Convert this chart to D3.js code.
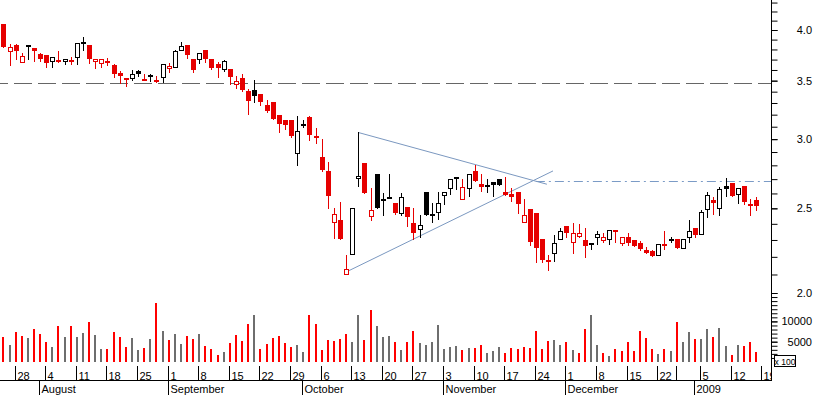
<!DOCTYPE html>
<html><head><meta charset="utf-8">
<script src="https://cdn.jsdelivr.net/npm/d3@7"></script>
<style>html,body{margin:0;padding:0;background:#fff;overflow:hidden}svg{display:block;font-family:"Liberation Sans",Arial,sans-serif}</style>
</head><body><svg id="c" width="817" height="395"></svg>
<script>
// ---------------- DATA ----------------
const openP = [
4.064,3.788,3.845,3.674,3.842,3.815,3.755,3.742,3.684,3.696,
3.687,3.700,3.723,3.873,3.845,3.687,3.664,3.689,3.648,3.572,
3.525,3.528,3.591,3.513,3.550,3.507,3.532,3.616,3.626,3.792,
3.845,3.706,3.703,3.795,3.706,3.658,3.607,3.610,3.467,3.525,
3.406,3.412,3.379,3.282,3.309,3.197,3.153,3.153,2.890,3.123,
3.180,3.025,2.862,2.759,2.410,2.424,2.103,2.218,2.706,2.817,
2.452,2.737,2.562,2.574,2.533,2.468,2.509,2.405,2.368,2.610,
2.461,2.474,2.587,2.636,2.717,2.560,2.636,2.759,2.664,2.657,
2.678,2.699,2.610,2.596,2.610,2.410,2.496,2.470,2.306,2.180,
2.220,2.304,2.386,2.290,2.326,2.300,2.284,2.316,2.302,2.308,
2.361,2.284,2.320,2.298,2.280,2.240,2.232,2.209,2.274,2.306,
2.304,2.254,2.316,2.372,2.335,2.494,2.554,2.504,2.652,2.671,
2.594,2.650,2.531,2.554];
const highP = [
4.064,3.852,3.859,3.762,3.842,3.815,3.768,3.742,3.723,3.785,
3.706,3.726,3.863,3.927,3.845,3.709,3.709,3.713,3.655,3.591,
3.525,3.600,3.597,3.562,3.562,3.544,3.655,3.670,3.792,3.873,
3.845,3.706,3.762,3.795,3.706,3.677,3.696,3.610,3.544,3.559,
3.424,3.507,3.379,3.324,3.309,3.197,3.153,3.153,3.189,3.155,
3.189,3.087,3.001,2.825,2.502,2.542,2.211,2.502,3.055,2.817,
2.638,2.737,2.601,2.737,2.533,2.601,2.509,2.502,2.456,2.610,
2.537,2.608,2.608,2.703,2.717,2.699,2.735,2.805,2.737,2.699,
2.678,2.699,2.717,2.638,2.610,2.562,2.496,2.470,2.306,2.211,
2.330,2.372,2.386,2.403,2.397,2.374,2.284,2.355,2.341,2.361,
2.361,2.316,2.341,2.298,2.292,2.256,2.240,2.277,2.353,2.320,
2.304,2.304,2.424,2.372,2.487,2.610,2.576,2.643,2.708,2.671,
2.636,2.650,2.562,2.574];
const lowP = [
3.828,3.648,3.706,3.674,3.706,3.687,3.689,3.632,3.632,3.677,
3.658,3.658,3.658,3.798,3.670,3.622,3.629,3.648,3.535,3.476,
3.454,3.507,3.544,3.504,3.500,3.490,3.490,3.584,3.626,3.792,
3.719,3.584,3.670,3.680,3.610,3.535,3.593,3.472,3.436,3.406,
3.206,3.309,3.285,3.223,3.166,3.060,3.084,3.017,2.805,3.095,
2.996,2.967,2.761,2.504,2.310,2.308,2.103,2.218,2.654,2.605,
2.426,2.504,2.456,2.571,2.463,2.458,2.388,2.308,2.318,2.458,
2.413,2.429,2.531,2.594,2.629,2.560,2.583,2.689,2.619,2.612,
2.583,2.661,2.589,2.551,2.471,2.410,2.272,2.172,2.172,2.125,
2.178,2.304,2.320,2.224,2.316,2.201,2.248,2.277,2.290,2.277,
2.288,2.270,2.270,2.266,2.242,2.224,2.207,2.209,2.244,2.290,
2.254,2.254,2.290,2.320,2.335,2.446,2.463,2.456,2.585,2.585,
2.537,2.531,2.458,2.491];
const closeP = [
3.828,3.828,3.788,3.739,3.828,3.788,3.709,3.670,3.723,3.680,
3.706,3.699,3.863,3.865,3.709,3.709,3.709,3.670,3.565,3.547,
3.510,3.559,3.560,3.513,3.537,3.490,3.655,3.638,3.785,3.832,
3.745,3.603,3.762,3.709,3.622,3.619,3.684,3.535,3.494,3.415,
3.320,3.359,3.309,3.231,3.166,3.125,3.117,3.028,3.063,3.122,
3.035,3.012,2.766,2.585,2.465,2.308,2.129,2.502,2.725,2.605,
2.487,2.504,2.562,2.574,2.471,2.574,2.446,2.344,2.391,2.458,
2.461,2.537,2.608,2.703,2.717,2.647,2.735,2.689,2.647,2.657,
2.658,2.661,2.589,2.578,2.531,2.456,2.288,2.254,2.184,2.180,
2.280,2.355,2.345,2.345,2.341,2.266,2.270,2.335,2.318,2.361,
2.347,2.316,2.284,2.266,2.244,2.224,2.207,2.277,2.274,2.306,
2.254,2.304,2.353,2.330,2.478,2.587,2.537,2.629,2.633,2.585,
2.636,2.544,2.531,2.517];
const volume = [
6160,4190,7390,6400,5990,8130,6900,4930,3700,8870,
6160,8870,6160,7140,9930,6580,3130,3200,7390,6160,
3700,5910,2880,3520,5670,14530,7640,5420,6900,4430,
6400,5670,6900,3940,3200,1720,2390,4680,6650,5170,
9360,11580,3200,4430,5910,6400,4680,3700,4190,2390,
11580,9360,2880,5420,5170,5670,6900,4930,11580,5420,
12810,8870,6160,6400,4930,2880,4930,7640,4680,4190,
4930,9110,3200,3700,3940,2880,3450,3450,4190,2220,
2640,3700,2140,3450,3200,3700,3450,7640,3200,5170,
5420,4190,4930,2960,2140,8130,11580,4190,2220,1400,
3200,2710,4930,2640,7640,5910,3200,1900,3200,2640,
9930,5000,7390,5670,5670,8130,6160,8370,3940,1720,
4190,3940,4930,2390];
const priorClose = 4.10;
const refLevel = 3.48;          // grey dashed horizontal
const resistLevel = 2.687;      // blue dash-dot horizontal
const resistFromIdx = 87;
const trendUpper = [[58.0, 3.053], [88.8, 2.664]];
const trendLower = [[55.9, 2.112], [89.8, 2.759]];
const priceLabels = [2.0, 2.5, 3.0, 3.5, 4.0];
const volLabels = [5000, 10000];
const weekLabels = ['28','4','11','18','25','1','8','15','22','29','6','13','20','27',
                    '3','10','17','24','1','8','15','22','','5','12','19'];
const monthLabels = ['August','September','October','November','December','2009'];
const holidays = ['2008-12-25','2008-12-26','2009-01-01'];
const firstDay = '2008-07-24', lastDay = '2009-01-16';

// ---------------- DATES ----------------
const dates = [];
for (let t = Date.parse(firstDay); t <= Date.parse(lastDay); t += 864e5) {
  const d = new Date(t), wd = d.getUTCDay(), s = d.toISOString().slice(0,10);
  if (wd > 0 && wd < 6 && !holidays.includes(s)) dates.push(d);
}
const n = closeP.length;

// ---------------- SCALES ----------------
const svg = d3.select('#c');
const AX = 771.5;
const x = d3.scaleLinear().domain([0, n - 1]).range([3.4, 756.2]);
const y = d3.scaleLog().domain([2, 4]).range([293, 30]);
const yv = d3.scaleLinear().domain([0, 10000]).range([362, 321.4]);
const RED = '#e60000', BLACK = '#000', VRED = '#ff0000', VGRAY = '#6e6e6e';
const px = i => Math.round(x(i));

svg.append('rect').attr('width', 817).attr('height', 395).attr('fill', '#fff');
svg.append('defs').append('clipPath').attr('id', 'clipL')
  .append('rect').attr('x', 0).attr('y', 0).attr('width', AX).attr('height', 395);

const plot = svg.append('g').attr('clip-path', 'url(#clipL)');

// grey dashed reference line
plot.append('line').attr('x1', 0).attr('x2', AX)
  .attr('y1', Math.round(y(refLevel)) + 0.5).attr('y2', Math.round(y(refLevel)) + 0.5)
  .attr('stroke', '#666').attr('stroke-width', 1)
  .attr('stroke-dasharray', '18,6').attr('stroke-dashoffset', 10);

// resistance dash-dot
plot.append('line').attr('x1', x(resistFromIdx)).attr('x2', AX)
  .attr('y1', Math.round(y(resistLevel)) + 0.5).attr('y2', Math.round(y(resistLevel)) + 0.5)
  .attr('stroke', '#7b9bc6').attr('stroke-width', 1).attr('stroke-dasharray', '9,4,2,4');

// triangle trend lines
[trendUpper, trendLower].forEach(t => {
  plot.append('line')
    .attr('x1', x(t[0][0])).attr('y1', y(t[0][1]))
    .attr('x2', x(t[1][0])).attr('y2', y(t[1][1]))
    .attr('stroke', '#7b98c0').attr('stroke-width', 1);
});

// candles
const data = d3.range(n).map(i => ({
  i, o: openP[i], h: highP[i], l: lowP[i], c: closeP[i], v: volume[i],
  pc: i === 0 ? priorClose : closeP[i - 1]
}));
const cg = plot.append('g');
data.forEach(d => {
  const col = d.c <= d.pc ? RED : BLACK;
  const cx = px(d.i) + 0.5;
  cg.append('line').attr('x1', cx).attr('x2', cx)
    .attr('y1', Math.round(y(d.h))).attr('y2', Math.round(y(d.l)) + 1)
    .attr('stroke', col).attr('stroke-width', 1);
  const top = Math.round(y(Math.max(d.o, d.c)));
  const bot = Math.round(y(Math.min(d.o, d.c)));
  if (d.c > d.o) {
    cg.append('rect').attr('x', px(d.i) - 2 + 0.5).attr('y', top + 0.5)
      .attr('width', 4).attr('height', Math.max(bot - top, 1))
      .attr('fill', '#fff').attr('stroke', col).attr('stroke-width', 1);
  } else {
    cg.append('rect').attr('x', px(d.i) - 2).attr('y', top)
      .attr('width', 5).attr('height', Math.max(bot - top, 2))
      .attr('fill', col);
  }
});

// volume bars
plot.append('g').selectAll('rect').data(data).join('rect')
  .attr('x', d => px(d.i) - 1).attr('width', 2)
  .attr('y', d => Math.round(yv(d.v))).attr('height', d => 362 - Math.round(yv(d.v)))
  .attr('fill', d => d.c < d.pc ? VRED : VGRAY);

// ---------------- RIGHT AXES ----------------
svg.append('line').attr('x1', AX).attr('x2', AX).attr('y1', 0).attr('y2', 381)
  .attr('stroke', '#000').attr('stroke-width', 1);

const minorP = d3.range(20, 44).map(v => v / 10);
const pAxis = svg.append('g').attr('transform', `translate(${AX},0)`)
  .call(d3.axisRight(y).tickValues(minorP).tickSize(6).tickFormat(''));
pAxis.select('.domain').remove();
const pLab = svg.append('g').attr('transform', `translate(${AX},0)`)
  .call(d3.axisRight(y).tickValues(priceLabels).tickSize(6).tickFormat(d3.format('.1f')));
pLab.select('.domain').remove();
pLab.selectAll('text').attr('x', 812 - AX).attr('text-anchor', 'end')
  .attr('font-size', 11).attr('font-family', '"Liberation Sans",Arial,sans-serif').attr('fill', '#000');

const minorV = d3.range(1000, 17000, 1000);
const vAxis = svg.append('g').attr('transform', `translate(${AX},0)`)
  .call(d3.axisRight(yv).tickValues(minorV).tickSize(6).tickFormat(''));
vAxis.select('.domain').remove();
const vLab = svg.append('g').attr('transform', `translate(${AX},0)`)
  .call(d3.axisRight(yv).tickValues(volLabels).tickSize(6).tickFormat(d3.format('d')));
vLab.select('.domain').remove();
vLab.selectAll('text').attr('x', 812 - AX).attr('text-anchor', 'end')
  .attr('font-size', 11).attr('font-family', '"Liberation Sans",Arial,sans-serif').attr('fill', '#000');

// x 100 box
svg.append('rect').attr('x', 774.5).attr('y', 355.5).attr('width', 21).attr('height', 11)
  .attr('fill', '#fff').attr('stroke', '#000').attr('stroke-width', 1);
svg.append('text').attr('x', 785).attr('y', 364.5).attr('text-anchor', 'middle')
  .attr('font-size', 8.5).text('x 100');

// ---------------- DATE AXIS ----------------
const dg = svg.append('g').attr('clip-path', 'url(#clipL)');
dg.append('line').attr('x1', 0).attr('x2', AX).attr('y1', 380.5).attr('y2', 380.5)
  .attr('stroke', '#000');
const weekIdx = d3.range(n).filter(i => dates[i].getUTCDay() === 1);
weekIdx.push(n); // next Monday after the last session
weekIdx.forEach((wi, k) => {
  const tx = Math.round(x(wi)) - 0.5;
  dg.append('line').attr('x1', tx).attr('x2', tx).attr('y1', 366).attr('y2', 381)
    .attr('stroke', '#000');
  if (weekLabels[k]) dg.append('text').attr('x', tx + 2).attr('y', 379.5)
    .attr('font-size', 11).text(weekLabels[k]);
});
const monthIdx = d3.range(1, n).filter(i => dates[i].getUTCMonth() !== dates[i - 1].getUTCMonth());
monthIdx.forEach((mi, k) => {
  const tx = Math.round(x(mi)) - 0.5;
  dg.append('line').attr('x1', tx).attr('x2', tx).attr('y1', 381).attr('y2', 395)
    .attr('stroke', '#000');
  dg.append('text').attr('x', tx + 2).attr('y', 392.5)
    .attr('font-size', 11).text(monthLabels[k]);
});
</script></body></html>
